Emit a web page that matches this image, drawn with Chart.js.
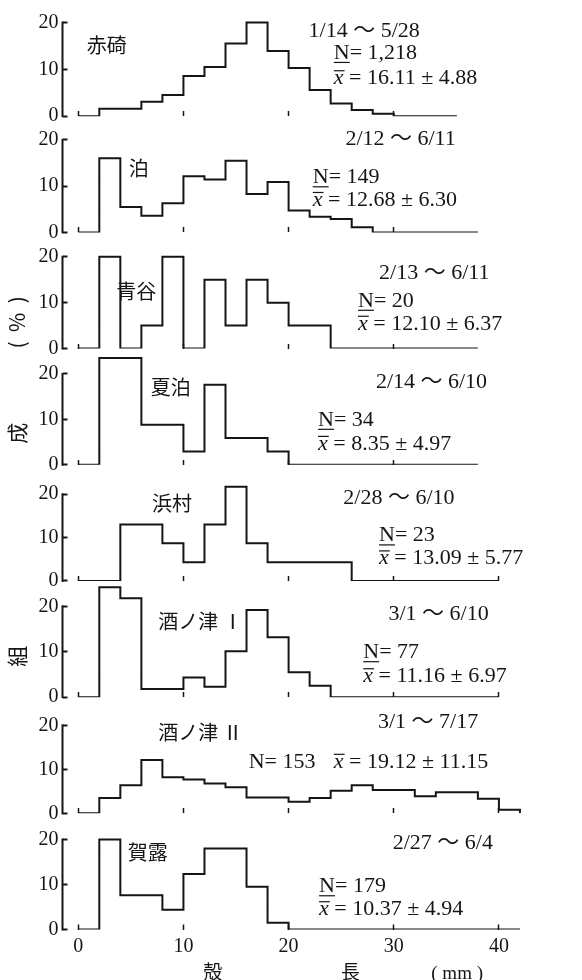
<!DOCTYPE html>
<html>
<head>
<meta charset="utf-8">
<script src="https://cdn.jsdelivr.net/npm/chart.js@4.4.1/dist/chart.umd.min.js"></script>
<style>
  html, body { margin: 0; padding: 0; background: #fff; }
  canvas { display: block; }
</style>
</head>
<body>
<canvas id="chart" width="582" height="980"></canvas>
<script>
// shell length classes (mm), 2 mm wide
const binEdges = [0, 2, 4, 6, 8, 10, 12, 14, 16, 18, 20, 22, 24, 26, 28, 30, 32, 34, 36, 38, 40, 42];
const xTicks = [0, 10, 20, 30, 40];

// one panel per station, top to bottom
const stations = ['赤碕', '泊', '青谷', '夏泊', '浜村', '酒ノ津 Ⅰ', '酒ノ津 Ⅱ', '賀露'];
const periods = ['1/14 ～ 5/28', '2/12 ～ 6/11', '2/13 ～ 6/11', '2/14 ～ 6/10',
                 '2/28 ～ 6/10', '3/1 ～ 6/10', '3/1 ～ 7/17', '2/27 ～ 6/4'];
const sampleN = ['1,218', '149', '20', '34', '23', '77', '153', '179'];
const meanSd = ['16.11 ± 4.88', '12.68 ± 6.30', '12.10 ± 6.37', '8.35 ± 4.97',
                '13.09 ± 5.77', '11.16 ± 6.97', '19.12 ± 11.15', '10.37 ± 4.94'];

// composition (%) per 2 mm class
const akasaki     = [0, 1.6, 1.6, 3.1, 4.5, 8.6, 10.5, 15.5, 20, 13.9, 10.3, 5.6, 2.7, 1.3, 0.5, 0, 0, 0];
const tomari      = [0, 16.0, 5.5, 3.6, 6.3, 12.1, 11.4, 15.5, 8.3, 10.9, 4.7, 3.4, 2.9, 1.1, 0, 0, 0, 0, 0];
const aoya        = [0, 20, 0, 5, 20, 0, 15, 5, 15, 10, 5, 5, 0, 0, 0, 0, 0, 0, 0];
const natsudomari = [0, 23.5, 23.5, 8.8, 8.8, 2.9, 17.6, 5.9, 5.9, 2.9, 0, 0, 0, 0, 0, 0, 0, 0, 0];
const hamamura    = [0, 0, 13.0, 13.0, 8.7, 4.3, 13.0, 21.7, 8.7, 4.3, 4.3, 4.3, 4.3, 0, 0, 0, 0, 0, 0, 0];
const sakenotsu1  = [0, 24.2, 21.8, 1.8, 1.8, 4.3, 2.3, 10.1, 19.2, 13.2, 5.5, 2.5, 0, 0, 0, 0, 0, 0, 0, 0];
const sakenotsu2  = [0, 3.5, 6.4, 12.1, 8.2, 7.7, 6.8, 5.9, 3.6, 3.6, 2.6, 3.5, 5.1, 6.4, 5.3, 5.3, 3.9, 4.8, 4.8, 3.3, 0.8];
const karo        = [0, 20, 7.6, 7.6, 4.4, 12.3, 18.0, 18.0, 9.5, 1.5, 0, 0, 0, 0, 0, 0, 0, 0, 0, 0, 0];

const series = [akasaki, tomari, aoya, natsudomari, hamamura, sakenotsu1, sakenotsu2, karo];

// layout only: top of each panel's y range, and where its texts sit (mm, %)
const yTop = [24.8, 25.1, 25.3, 25.6, 26.8, 25.6, 26.4, 25.8];
const labelPos = [
  { name: [0.8, 15.2], period: [21.9, 18.2], n: [24.3, 13.5], mean: [24.3, 8.1] },
  { name: [4.8, 13.9], period: [25.4, 20.2], n: [22.3, 11.9], mean: [22.3, 7.0] },
  { name: [3.6, 12.4], period: [28.6, 16.5], n: [26.6, 10.4], mean: [26.6, 5.4] },
  { name: [6.9, 17.0], period: [28.3, 18.1], n: [22.8, 9.9], mean: [22.8, 4.6] },
  { name: [7.0, 17.9], period: [25.2, 19.1], n: [28.6, 10.5], mean: [28.6, 5.2] },
  { name: [7.6, 16.7], period: [29.5, 18.3], n: [27.1, 9.9], mean: [27.1, 4.6] },
  { name: [7.6, 18.3], period: [28.5, 20.8], n: [16.2, 11.7], mean: [24.3, 11.7], inline: true },
  { name: [4.7, 17.2], period: [29.9, 19.2], n: [22.9, 9.6], mean: [22.9, 4.5] }
];
// pieces of the rotated y title, hung on panels 3, 4 and 6
const yTitles = { 2: '(  %  )', 3: '　成', 5: '　  組' };

const ink = '#151515';
const serif = "'Liberation Serif', 'Noto Sans CJK JP', serif";
const cjk = "'Noto Sans CJK JP', sans-serif";

function histPoints(values) {
  const pts = values.map((v, i) => ({ x: binEdges[i], y: v }));
  pts.push({ x: binEdges[values.length], y: 0 });
  return pts;
}

const datasets = series.map((values, i) => ({
  label: stations[i],
  data: histPoints(values),
  xAxisID: 'x' + (i + 1),
  yAxisID: 'y' + (i + 1),
  stepped: true,
  borderColor: ink,
  borderWidth: 2,
  pointRadius: 0,
  fill: false
}));

const scales = {};
series.forEach((values, i) => {
  const n = i + 1;
  const end = binEdges[values.length];
  const last = n === series.length;
  scales['y' + n] = {
    type: 'linear',
    position: 'left',
    stack: 'panels',
    stackWeight: 1,
    weight: series.length - i,
    min: 0,
    max: yTop[i],
    border: { display: false },
    grid: { drawOnChartArea: false, drawTicks: true, tickLength: -5, tickWidth: 2, tickColor: ink },
    ticks: { stepSize: 10, includeBounds: false, padding: 9, color: ink, font: { family: serif, size: 20 } },
    title: yTitles[i] ? {
      display: true, text: yTitles[i], align: 'start', color: ink,
      font: { family: cjk, size: 21 }
    } : { display: false },
    afterFit(scale) { scale.width = 62.5; scale.paddingTop = 0; scale.paddingBottom = 0; }
  };
  scales['x' + n] = {
    type: 'linear',
    position: last ? 'bottom' : { ['y' + n]: 0 },
    min: -1.5,
    max: 42.1,
    border: { display: false },
    grid: {
      drawOnChartArea: false, drawTicks: true, tickLength: -5, tickWidth: 1.5,
      tickColor: (c) => (c.tick && c.tick.value <= end ? ink : 'rgba(0,0,0,0)')
    },
    afterBuildTicks(scale) { scale.ticks = xTicks.map(v => ({ value: v })); },
    ticks: { display: last, padding: 10, color: ink, font: { family: serif, size: 20 } },
    title: last ? {
      display: true, align: 'end', color: ink, padding: { top: 0, bottom: 0 },
      text: '殻' + '　'.repeat(6) + ' ' + '長' + '　　　' + '   ' + '( mm )' + '　　',
      font: { family: serif, size: 19, lineHeight: 0.65 }
    } : { display: false },
    afterFit(scale) {
      if (last) scale.height = 50.5;
      scale.paddingLeft = 0; scale.paddingRight = 0; scale.paddingTop = 0; scale.paddingBottom = 0;
    }
  };
});

// y axis line runs only from 0 to 20 in every panel
const axisStubs = {
  id: 'axisStubs',
  afterDraw(chart) {
    const ctx = chart.ctx;
    ctx.save();
    ctx.strokeStyle = ink;
    ctx.lineWidth = 2;
    series.forEach((values, i) => {
      const s = chart.scales['y' + (i + 1)];
      ctx.beginPath();
      ctx.moveTo(s.right, s.getPixelForValue(0) + 1);
      ctx.lineTo(s.right, s.getPixelForValue(20) - 1);
      ctx.stroke();
    });
    ctx.restore();
  }
};

// station name, period, N and mean ± sd inside each panel
const panelText = {
  id: 'panelText',
  afterDatasetsDraw(chart) {
    const ctx = chart.ctx;
    ctx.save();
    ctx.fillStyle = ink;
    ctx.strokeStyle = ink;
    ctx.lineWidth = 1.2;
    ctx.textBaseline = 'middle';
    ctx.textAlign = 'left';
    stations.forEach((name, i) => {
      const xs = chart.scales['x' + (i + 1)];
      const ys = chart.scales['y' + (i + 1)];
      const p = labelPos[i];
      const at = (pt) => [xs.getPixelForValue(pt[0]), ys.getPixelForValue(pt[1])];
      let x, y;

      ctx.font = '20px ' + cjk;
      [x, y] = at(p.name);
      ctx.fillText(name, x, y);

      ctx.font = '22px ' + serif;
      [x, y] = at(p.period);
      ctx.fillText(periods[i], x, y);

      [x, y] = at(p.n);
      ctx.fillText('N= ' + sampleN[i], x, y);
      if (!p.inline) {
        const w = ctx.measureText('N').width;
        ctx.beginPath();
        ctx.moveTo(x, y + 9.5);
        ctx.lineTo(x + w, y + 9.5);
        ctx.stroke();
      }

      [x, y] = at(p.mean);
      ctx.font = 'italic 22px ' + serif;
      ctx.fillText('x', x, y);
      const wx = ctx.measureText('x').width;
      ctx.beginPath();
      ctx.moveTo(x, y - 7.5);
      ctx.lineTo(x + wx + 1, y - 7.5);
      ctx.stroke();
      ctx.font = '22px ' + serif;
      ctx.fillText(' = ' + meanSd[i], x + wx, y);
    });
    ctx.restore();
  }
};

new Chart(document.getElementById('chart'), {
  type: 'line',
  data: { datasets },
  options: {
    responsive: false,
    devicePixelRatio: 1,
    animation: false,
    events: [],
    layout: { padding: { left: 0, right: 61, top: 0, bottom: 0 } },
    plugins: { legend: { display: false }, tooltip: { enabled: false } },
    scales
  },
  plugins: [axisStubs, panelText]
});
</script>
</body>
</html>
